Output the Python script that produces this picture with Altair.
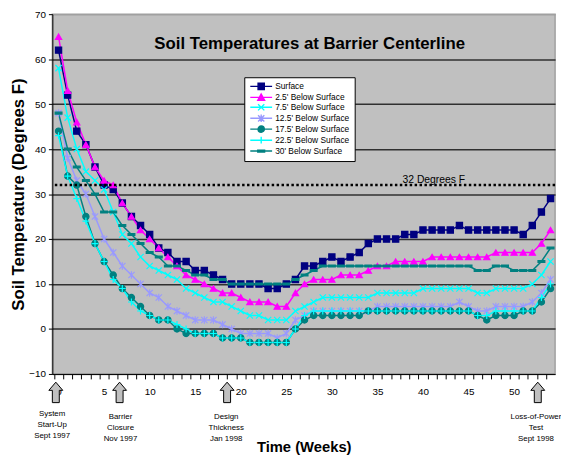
import altair as alt
import pandas as pd

weeks = list(range(55))
names = ["Surface", "2.5' Below Surface", "7.5' Below Surface", "12.5' Below Surface",
         "17.5' Below Surface", "22.5' Below Surface", "30' Below Surface"]

surface = [62,52,44,41,36,32,31,28,25,23, 21,18,17,15,15,13,13,12,11,10,
           10,10,10,9,9,10,11,14,14,15, 16,15,16,17,19,20,20,20,21,21,
           22,22,22,22,23,22,22,22,22,22, 22,21,23,26,29]
d2_5 = [65,53,46,41,36,33,32,28,25,22, 20,18,16,14,12,11,10,9,8,8,
        7,6,6,6,5,5,8,10,11,11, 11,12,12,12,13,14,14,15,15,15,
        15,16,16,16,16,16,16,16,17,17, 17,17,17,19,22]
d7_5 = [58,47,40,35,33,31,26,21,19,16, 14,13,12,11,9,8,7,6,6,5,
        4,3,3,2,2,2,4,5,6,7, 7,7,7,7,7,8,8,8,8,8,
        9,9,9,9,9,9,8,8,9,9, 9,9,10,12,15]
d12_5 = [48,38,33,30,25,20,17,14,12,10, 8,7,5,4,3,2,2,2,1,0,
         -1,-1,-1,-1,-2,-1,2,3,4,4, 4,4,4,4,4,5,5,5,5,5,
         5,5,5,5,6,5,4,4,5,5, 5,5,6,8,11]
d17_5 = [44,34,32,25,19,15,12,9,7,5, 3,2,2,0,-1,-1,-1,-1,-2,-2,
         -2,-3,-3,-3,-3,-3,0,2,3,3, 3,3,3,3,4,4,4,4,4,4,
         4,4,4,4,4,4,3,2,3,3, 3,4,4,6,9]
d22_5 = [43,34,29,24,19,15,11,9,6,4, 3,2,2,1,0,-1,-1,-1,-2,-2,
         -2,-3,-3,-3,-3,-3,0,3,4,4, 4,4,4,4,4,4,4,4,4,4,
         4,4,4,4,4,4,3,3,4,4, 4,4,4,7,10]
d30 = [48,40,36,33,30,26,26,23,21,19, 17,16,14,14,13,12,12,11,11,10,
       10,10,10,10,10,10,11,12,13,14, 14,14,14,14,14,14,14,14,14,14,
       14,14,14,14,14,14,13,13,14,14, 13,13,13,15,18]
all_series = [surface, d2_5, d7_5, d12_5, d17_5, d22_5, d30]

colors = ["#000080", "#FF00FF", "#00FFFF", "#9999FF", "#008080", "#00FFFF", "#008080"]
shapes = ["square", "triangle-up",
          "M-1,-1L1,1M-1,1L1,-1",
          "M-1,-1L1,1M-1,1L1,-1M0,-1.2L0,1.2",
          "circle",
          "M-1.1,0L1.1,0M0,-1.1L0,1.1",
          "M-1.1,-0.3H1.1V0.3H-1.1Z"]
# legend keys: a line stub with the marker on it
legend_shapes = ["M-1,0L6,0M1.5,-1H3.5V1H1.5Z",
                 "M-1,0L6,0M2.5,-1.1L3.6,0.9H1.4Z",
                 "M-1,0L6,0M1.5,-1L3.5,1M1.5,1L3.5,-1",
                 "M-1,0L6,0M1.5,-1L3.5,1M1.5,1L3.5,-1M2.5,-1.2L2.5,1.2",
                 "M-1,0L6,0M3.5,0A1,1,0,1,1,1.5,0A1,1,0,1,1,3.5,0Z",
                 "M-1,0L6,0M2.5,-1.1L2.5,1.1",
                 "M-1,0L6,0M1.4,-0.3H3.6V0.3H1.4Z"]

threshold = [32]
threshold_label = ["32 Degrees F"]

events_week = [-0.3, 6.7, 18.5, 52.6]
event_text_week = [-0.7, 6.8, 18.4, 52.4]
event_text = ["System\nStart-Up\nSept 1997", "Barrier\nClosure\nNov 1997",
              "Design\nThickness\nJan 1998", "Loss-of-Power\nTest\nSept 1998"]

title_text = ["Soil Temperatures at Barrier Centerline"]

rows = []
for nm, vals in zip(names, all_series):
    for w, v in zip(weeks, vals):
        rows.append({"week": w, "temp": v, "series": nm})
df = pd.DataFrame(rows)

FONT = "Liberation Sans"

xscale = alt.Scale(domain=[-0.68, 54.5], nice=False, zero=False)
yscale = alt.Scale(domain=[-10, 70], nice=False, zero=False)

x_axis = alt.Axis(values=weeks, tickOffset=-4.62, labelOffset=4.62,
                  labelExpr="datum.value % 5 === 0 ? datum.label : ''",
                  title="Time (Weeks)", titleFont=FONT, titleFontSize=15, titleFontWeight="bold",
                  titleColor="black", titleY=79, titleBaseline="alphabetic",
                  labelFont=FONT, labelFontSize=10, labelColor="black", labelPadding=8,
                  tickSize=5, tickColor="black", domainColor="black", grid=False,
                  labelFlush=False, labelOverlap=False)
y_axis = alt.Axis(values=list(range(-10, 71, 10)), title="Soil Temperature (Degrees F)",
                  titleFont=FONT, titleFontSize=17, titleFontWeight="bold", titleColor="black",
                  titlePadding=1,
                  labelFont=FONT, labelFontSize=10, labelColor="black", labelPadding=3,
                  tickSize=4, tickColor="black", domainColor="black",
                  grid=True, gridWidth=1.5,
                  gridColor={"condition": {"test": "datum.value >= 70 || datum.value <= -10",
                                           "value": "#A0A0A0"}, "value": "#303030"})

X = alt.X("week:Q", scale=xscale, axis=x_axis)
Y = alt.Y("temp:Q", scale=yscale, axis=y_axis)

color_scale = alt.Scale(domain=names, range=colors)

lines = alt.Chart(df).mark_line(strokeWidth=1.5).encode(
    x=X, y=Y,
    color=alt.Color("series:N", sort=names, scale=color_scale, legend=None),
)

points = alt.Chart(df).mark_point(filled=True, size=40, strokeWidth=1.2, opacity=1).encode(
    x=X, y=Y,
    color=alt.Color("series:N", sort=names, scale=color_scale, legend=None),
    stroke=alt.Stroke("series:N", sort=names, scale=color_scale, legend=None),
    shape=alt.Shape("series:N", sort=names, scale=alt.Scale(domain=names, range=shapes),
                    legend=None),
)

key_legend = alt.Legend(orient="none", legendX=194.7, legendY=64, title=None,
                        symbolSize=40, symbolStrokeWidth=1.4, labelOffset=17.8, padding=5,
                        fillColor="white", strokeColor="black",
                        labelFont=FONT, labelFontSize=8.5, labelColor="black",
                        rowPadding=-2.8, labelLimit=300)
legend_carrier = alt.Chart(pd.DataFrame({"series": names})).mark_point(
    filled=True, size=40, strokeWidth=1.4, opacity=1).encode(
    x=alt.value(-700), y=alt.value(-700),
    color=alt.Color("series:N", sort=names, scale=color_scale, legend=key_legend),
    stroke=alt.Stroke("series:N", sort=names, scale=color_scale, legend=key_legend),
    shape=alt.Shape("series:N", sort=names, scale=alt.Scale(domain=names, range=legend_shapes),
                    legend=key_legend),
)

thr_df = pd.DataFrame({"temp": threshold, "label": threshold_label})
rule = alt.Chart(thr_df).mark_rule(color="black", strokeWidth=2.5, strokeDash=[2.5, 2.5]).encode(
    y=alt.Y("temp:Q", scale=yscale, axis=y_axis))
rule_text = alt.Chart(thr_df).mark_text(font=FONT, fontSize=10.5, color="black",
                                        baseline="alphabetic", dy=-2).encode(
    x=alt.value(387), y=alt.Y("temp:Q", scale=yscale, axis=y_axis), text="label:N")

title = alt.Chart(pd.DataFrame({"t": title_text})).mark_text(
    font=FONT, fontSize=17, fontWeight="bold", color="black", baseline="middle").encode(
    x=alt.value(261), y=alt.value(30), text="t:N")

arrow_path = "M0,-1L0.68,-0.2L0.34,-0.2L0.34,1L-0.34,1L-0.34,-0.2L-0.68,-0.2Z"
arrows = alt.Chart(pd.DataFrame({"week": events_week})).mark_point(
    shape=arrow_path, size=430, filled=True, fill="#C0C0C0", stroke="black",
    strokeWidth=1, opacity=1).encode(x=X, y=alt.value(383.7))

ev_df = pd.DataFrame({"week": event_text_week, "text": event_text, "i": list(range(4))})
ev1 = alt.Chart(ev_df).transform_filter("datum.i == 0").mark_text(
    font=FONT, fontSize=8, color="black", lineBreak="\n", lineHeight=11.3,
    align="center", baseline="top").encode(x=X, y=alt.value(401.5), text="text:N")
ev2 = alt.Chart(ev_df).transform_filter("datum.i > 0").mark_text(
    font=FONT, fontSize=8, color="black", lineBreak="\n", lineHeight=11.3,
    align="center", baseline="top").encode(x=X, y=alt.value(404.5), text="text:N")

chart = alt.layer(lines, points, rule, rule_text, title, arrows, ev1, ev2,
                  legend_carrier).resolve_scale(
    color="independent", stroke="independent", shape="independent"
).resolve_legend(
    color="independent", stroke="independent", shape="independent"
).properties(
    width=510, height=365,
    autosize=alt.AutoSizeParams(type="none"),
    padding={"left": 45, "top": 3, "right": 6, "bottom": 82},
    background="white",
).configure_view(fill="#C0C0C0", stroke="#A0A0A0", strokeWidth=1.5)

chart.save("out.html", embed_options={"renderer": "svg", "actions": False})
